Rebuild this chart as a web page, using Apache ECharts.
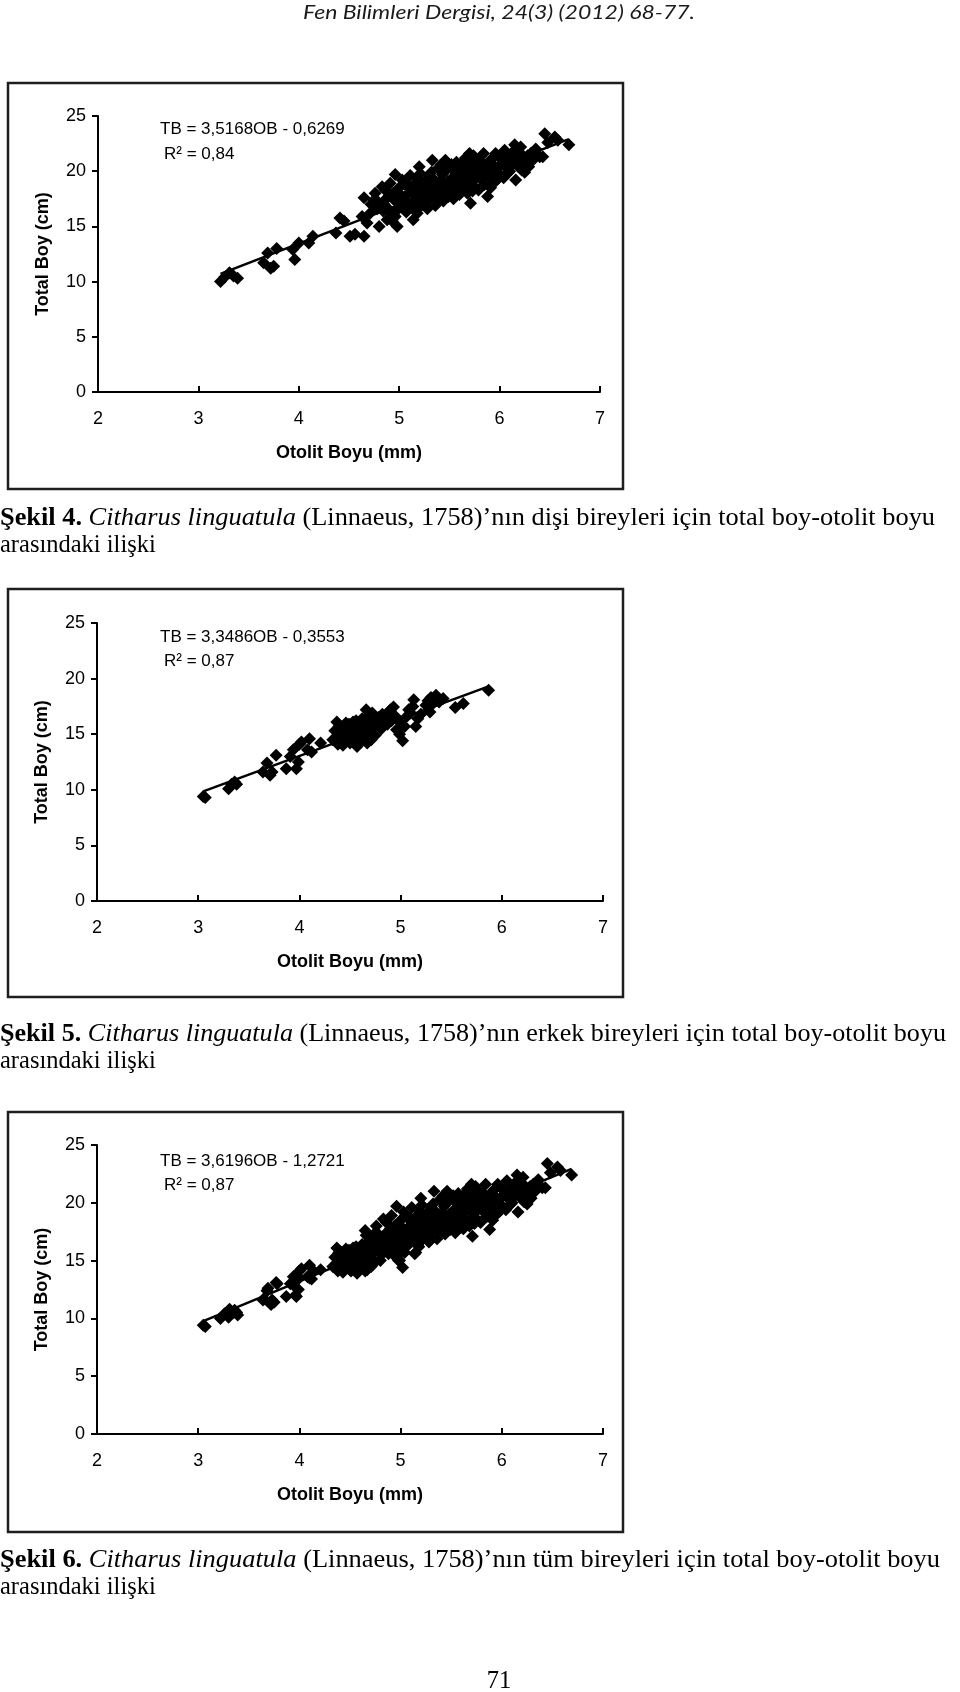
<!DOCTYPE html>
<html>
<head>
<meta charset="utf-8">
<script src="https://cdn.jsdelivr.net/npm/echarts@6/dist/echarts.min.js"></script>
<style>html,body{margin:0;padding:0;background:#fff;}#c{width:960px;height:1692px;}</style>
</head>
<body>
<div id="c"></div>
<script>
// ---- data ----
const xTicks = [2, 3, 4, 5, 6, 7];
const yTicks = [0, 5, 10, 15, 20, 25];
const xTitle = 'Otolit Boyu (mm)';
const yTitle = 'Total Boy (cm)';

// Şekil 4: dişi bireyler [OB, TB]
const disiPoints = [
[3.22,10.0],[3.26,10.4],[3.31,10.8],[3.35,10.5],[3.39,10.3],[3.65,11.7],[3.69,12.6],[3.72,11.2],[3.75,11.4],[3.78,13.0],
[3.94,12.9],[3.96,12.0],[4.00,13.5],[4.10,13.5],[4.14,14.1],[4.37,14.4],[4.41,15.75],[4.45,15.5],[4.51,14.1],[4.56,14.3],
[4.63,15.9],[4.65,14.1],[4.65,17.6],[4.68,15.3],[4.71,16.2],[4.72,17.0],[4.75,17.4],[4.78,16.6],[4.80,15.0],[4.82,16.9],
[4.84,16.4],[4.86,18.3],[4.87,17.5],[4.88,15.6],[4.90,17.8],[4.92,16.3],[4.94,18.0],[4.96,19.7],[4.96,15.9],[4.98,15.0],
[4.99,17.2],[5.00,18.5],[5.02,16.8],[5.04,17.6],[5.05,18.9],[5.07,16.3],[5.08,17.9],[5.10,18.4],[5.12,17.1],[5.14,15.6],
[5.15,18.8],[5.17,17.5],[5.18,16.2],[5.19,19.3],[5.20,18.0],[5.22,16.9],[5.23,17.7],[5.25,19.0],[5.26,18.3],[5.28,16.6],
[5.29,17.4],[5.30,19.6],[5.31,18.6],[5.33,21.0],[5.33,17.9],[5.35,19.2],[5.36,16.9],[5.38,18.1],[5.39,20.3],[5.40,17.6],
[5.41,18.8],[5.43,19.7],[5.44,17.3],[5.45,18.4],[5.47,20.1],[5.48,19.0],[5.49,17.7],[5.50,18.6],[5.52,20.6],[5.53,19.4],
[5.54,17.5],[5.55,18.9],[5.57,20.8],[5.58,18.2],[5.59,19.7],[5.60,17.9],[5.62,19.1],[5.63,20.4],[5.64,18.5],[5.66,21.2],
[5.67,19.4],[5.68,18.0],[5.70,20.0],[5.71,17.1],[5.72,19.0],[5.74,21.4],[5.75,18.6],[5.76,20.5],[5.78,19.6],[5.79,18.3],
[5.81,20.9],[5.82,19.2],[5.84,21.6],[5.85,18.8],[5.87,20.2],[5.88,17.7],[5.90,19.5],[5.92,21.1],[5.93,20.6],[5.95,19.0],
[5.97,20.0],[5.99,21.3],[6.01,19.6],[6.03,20.8],[6.05,21.9],[6.07,20.3],[6.09,19.9],[6.11,21.5],[6.13,20.6],[6.14,21.8],
[6.15,22.4],[6.16,19.2],[6.18,20.9],[6.20,21.7],[6.22,20.1],[6.24,21.2],[6.26,20.5],[6.29,20.4],[6.31,21.6],[6.33,21.0],
[6.36,22.0],[6.40,21.3],[6.43,21.3],[6.45,23.4],[6.48,22.6],[6.55,23.1],[6.58,22.8],[6.69,22.4],
[4.85,17.0],[4.91,18.9],[4.95,17.4],[5.01,17.9],[5.03,19.2],[5.06,17.3],[5.09,18.7],[5.11,19.6],[5.13,16.8],[5.16,17.9],
[5.18,18.6],[5.21,19.8],[5.24,18.1],[5.27,17.3],[5.29,18.9],[5.32,19.9],[5.34,18.4],[5.37,17.5],[5.39,19.0],[5.42,20.6],
[5.44,18.9],[5.46,17.9],[5.48,20.5],[5.51,19.1],[5.53,18.0],[5.56,19.9],[5.58,20.2],[5.61,18.7],[5.63,19.5],[5.65,20.9],
[5.67,18.4],[5.69,19.8],[5.71,20.7],[5.73,18.2],[5.75,19.5],[5.77,21.0],[5.80,19.9],[5.83,20.4],[5.86,19.6],[5.89,20.8],
[5.91,18.5],[5.94,20.2],[5.96,21.6],[5.98,19.3],[6.00,20.5],[6.02,21.1],[6.04,19.4],[6.06,20.9],[6.08,21.2],[6.10,20.0],
[6.12,21.0],[6.17,21.3],[6.19,20.4],[6.21,22.2],[6.23,21.0],[6.25,19.9],[6.28,21.4],[5.46,21.0],[5.70,21.6],[5.20,20.4],
[4.76,18.0],[4.79,17.2],[4.83,18.6],[4.89,16.6],[4.93,15.5],[4.97,16.4]
];
// Şekil 5: erkek bireyler [OB, TB]
const erkekPoints = [
[3.05,9.4],[3.07,9.3],[3.30,10.1],[3.33,10.5],[3.36,10.7],[3.38,10.5],[3.64,11.6],[3.68,12.4],[3.71,11.3],[3.73,11.6],
[3.77,13.1],[3.87,11.9],[3.91,13.0],[3.94,13.6],[3.97,11.9],[3.99,12.5],[4.00,14.1],[4.02,14.3],[4.08,13.6],[4.10,14.6],
[4.12,13.4],[4.21,14.2],[4.33,14.5],[4.35,15.3],[4.37,16.1],[4.38,14.1],[4.40,14.8],[4.42,15.5],[4.43,14.0],[4.45,15.0],
[4.47,14.5],[4.49,15.9],[4.50,14.2],[4.52,15.3],[4.53,16.1],[4.55,14.7],[4.57,13.9],[4.58,15.6],[4.60,14.3],[4.61,15.0],
[4.62,16.4],[4.64,14.5],[4.65,15.8],[4.66,17.2],[4.67,14.2],[4.68,16.6],[4.70,15.4],[4.71,14.5],[4.72,16.9],[4.74,15.9],
[4.76,16.0],[4.78,16.5],[4.81,15.5],[4.84,16.4],[4.87,15.9],[4.90,17.2],[4.91,16.2],[4.93,17.45],[4.96,15.4],[4.99,15.0],
[5.02,14.4],[5.04,15.7],[5.06,16.6],[5.08,17.2],[5.10,16.9],[5.13,18.1],[5.15,15.7],[5.17,16.4],[5.27,18.0],[5.29,17.0],
[5.32,17.75],[5.35,18.5],[5.38,17.9],[5.42,18.2],[5.54,17.4],[5.62,17.75],[5.87,18.96],
[4.39,15.7],[4.44,14.5],[4.46,16.0],[4.48,14.8],[4.51,15.7],[4.54,15.2],[4.56,16.2],[4.59,14.8],[4.63,15.4],[4.66,16.0],
[4.69,15.0],[4.73,16.3],[4.75,14.9],[4.79,15.8],[4.82,16.8],[4.86,16.3],[4.88,17.0],[4.95,16.6],[5.00,16.0],[5.12,17.5],
[5.20,16.8],[5.30,18.3],[5.25,17.6]
];
// Şekil 6: tüm bireyler = dişi + erkek
const tumPoints = disiPoints.concat(erkekPoints);

// trend lines (end points, from the printed equations)
const disiTrend = [[3.22,10.70],[6.69,22.90]];
const erkekTrend = [[3.05,9.86],[5.87,19.30]];
const tumTrend = [[3.05,9.77],[6.69,22.94]];

const eqTexts = ['TB = 3,5168OB - 0,6269','TB = 3,3486OB - 0,3553','TB = 3,6196OB - 1,2721'];
const r2Texts = ['R² = 0,84','R² = 0,87','R² = 0,87'];

const header = 'Fen Bilimleri Dergisi, 24(3) (2012) 68-77.';
const captions = [
  ['Şekil 4.','Citharus linguatula',' (Linnaeus, 1758)’nın dişi bireyleri için total boy-otolit boyu','arasındaki ilişki'],
  ['Şekil 5.','Citharus linguatula',' (Linnaeus, 1758)’nın erkek bireyleri için total boy-otolit boyu','arasındaki ilişki'],
  ['Şekil 6.','Citharus linguatula',' (Linnaeus, 1758)’nın tüm bireyleri için total boy-otolit boyu','arasındaki ilişki']
];
const pageNo = '71';

// ---- layout ----
const grids = [
  {left:98, top:116, width:502, height:276},
  {left:97, top:623, width:506, height:278},
  {left:97, top:1145, width:506, height:289}
];
const boxes = [[8,83,615,406],[8,589,615,408],[8,1112,615,420]];
const eqPos = [[160,129,164,154],[160,637,164,661],[160,1161,164,1185]];
const capPos = [[519,546,935],[1035,1062,946],[1561,1588,940]];

const SANS = '"Liberation Sans", Arial, sans-serif';
const SERIF = '"Liberation Serif", "Times New Roman", serif';
const capSize = 24.5;

const mctx = document.createElement('canvas').getContext('2d');
function mw(font, t){ mctx.font = font; return mctx.measureText(t).width; }

const xAxes = [], yAxes = [], series = [];
const sets = [[disiPoints, disiTrend],[erkekPoints, erkekTrend],[tumPoints, tumTrend]];
sets.forEach((s, i) => {
  xAxes.push({
    gridIndex:i, type:'value', min:xTicks[0], max:xTicks[xTicks.length-1], interval:1,
    axisLine:{show:true, onZero:false, lineStyle:{color:'#000', width:2}},
    axisTick:{show:true, inside:true, length:6, lineStyle:{color:'#000', width:2}},
    splitLine:{show:false},
    axisLabel:{color:'#000', fontSize:18, fontFamily:SANS, margin:18},
    name:xTitle, nameLocation:'middle', nameGap:52,
    nameTextStyle:{color:'#000', fontSize:18, fontWeight:'bold', fontFamily:SANS}
  });
  yAxes.push({
    gridIndex:i, type:'value', min:yTicks[0], max:yTicks[yTicks.length-1], interval:5,
    axisLine:{show:true, onZero:false, lineStyle:{color:'#000', width:2}},
    axisTick:{show:true, inside:false, length:6, lineStyle:{color:'#000', width:2}},
    splitLine:{show:false},
    axisLabel:{color:'#000', fontSize:18, fontFamily:SANS, margin:12},
    name:yTitle, nameLocation:'middle', nameGap:46,
    nameTextStyle:{color:'#000', fontSize:18, fontWeight:'bold', fontFamily:SANS}
  });
  series.push({
    type:'scatter', xAxisIndex:i, yAxisIndex:i, data:s[0],
    symbol:'diamond', symbolSize:13, itemStyle:{color:'#000', opacity:1},
    silent:true, animation:false
  });
  series.push({
    type:'line', xAxisIndex:i, yAxisIndex:i, data:s[1], showSymbol:false, symbol:'none',
    lineStyle:{color:'#000', width:2.5}, silent:true, animation:false, z:3
  });
});

const graphic = [];
boxes.forEach(b => graphic.push({
  type:'rect', shape:{x:b[0], y:b[1], width:b[2], height:b[3]},
  style:{fill:null, stroke:'#1e1e1e', lineWidth:2.5}, silent:true, z:-1
}));
eqPos.forEach((p, i) => {
  graphic.push({type:'text', x:p[0], y:p[1], style:{text:eqTexts[i], font:'17px '+SANS, fill:'#000', textVerticalAlign:'middle'}});
  graphic.push({type:'text', x:p[2], y:p[3], style:{text:r2Texts[i], font:'17px '+SANS, fill:'#000', textVerticalAlign:'middle'}});
});
// header
const hFont = 'italic 19px Lato, "Open Sans", sans-serif';
const hW = mw(hFont, header);
graphic.push({type:'text', x:499, y:13, scaleX:392/hW, originX:0,
  style:{text:header, font:hFont, fill:'#1a1a1a', textAlign:'center', textVerticalAlign:'middle'}});
// captions
captions.forEach((c, i) => {
  const fb = 'bold '+capSize+'px '+SERIF, fi = 'italic '+capSize+'px '+SERIF, fr = capSize+'px '+SERIF;
  const w = mw(fb, c[0]) + mw(fr, ' ') + mw(fi, c[1]) + mw(fr, c[2]);
  graphic.push({type:'text', x:0, y:capPos[i][0], scaleX:capPos[i][2]/w,
    style:{text:'{b|'+c[0]+'} {i|'+c[1]+'}'+c[2], fontSize:capSize, fontFamily:SERIF, fill:'#000', textVerticalAlign:'middle',
      rich:{b:{fontWeight:'bold', fontSize:capSize, fontFamily:SERIF}, i:{fontStyle:'italic', fontSize:capSize, fontFamily:SERIF}}}});
  graphic.push({type:'text', x:0, y:capPos[i][1],
    style:{text:c[3], font:capSize+'px '+SERIF, fill:'#000', textVerticalAlign:'middle'}});
});
graphic.push({type:'text', x:499, y:1682, style:{text:pageNo, font:capSize+'px '+SERIF, fill:'#000', textAlign:'center', textVerticalAlign:'middle'}});

const chart = echarts.init(document.getElementById('c'), null, {renderer:'canvas'});
chart.setOption({
  backgroundColor:'#fff', animation:false,
  grid:grids, xAxis:xAxes, yAxis:yAxes, series:series, graphic:graphic
});
</script>
</body>
</html>
